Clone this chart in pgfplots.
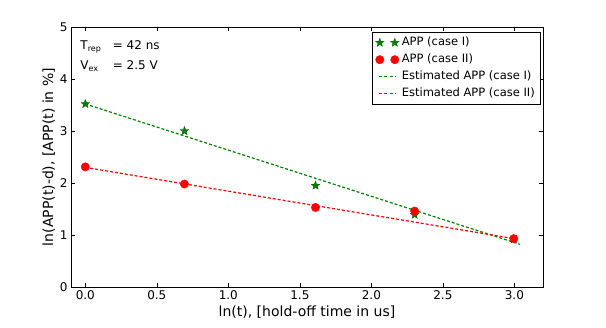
\documentclass[border=0pt]{standalone}
\usepackage{fontspec}
\setmainfont{DejaVu Sans}
\usepackage{pgfplots}
\pgfplotsset{compat=1.18}

\definecolor{mplgreen}{rgb}{0,0.5,0}
\definecolor{mplred}{rgb}{1,0,0}

% filled five-pointed star, like matplotlib's '*'
\pgfdeclareplotmark{fstar}{%
  \pgfpathmoveto{\pgfpointpolar{90}{1.0\pgfplotmarksize}}%
  \pgfpathlineto{\pgfpointpolar{126}{0.42\pgfplotmarksize}}%
  \pgfpathlineto{\pgfpointpolar{162}{1.0\pgfplotmarksize}}%
  \pgfpathlineto{\pgfpointpolar{198}{0.42\pgfplotmarksize}}%
  \pgfpathlineto{\pgfpointpolar{234}{1.0\pgfplotmarksize}}%
  \pgfpathlineto{\pgfpointpolar{270}{0.42\pgfplotmarksize}}%
  \pgfpathlineto{\pgfpointpolar{306}{1.0\pgfplotmarksize}}%
  \pgfpathlineto{\pgfpointpolar{342}{0.42\pgfplotmarksize}}%
  \pgfpathlineto{\pgfpointpolar{18}{1.0\pgfplotmarksize}}%
  \pgfpathlineto{\pgfpointpolar{54}{0.42\pgfplotmarksize}}%
  \pgfpathclose
  \pgfusepathqfillstroke
}

\begin{document}
\begin{tikzpicture}
\begin{axis}[
  name=ax,
  scale only axis,
  width=472pt, height=260pt,
  xmin=-0.1, xmax=3.2,
  ymin=0, ymax=5,
  xtick={0,0.5,1,1.5,2,2.5,3},
  ytick={0,1,2,3,4,5},
  xticklabel style={/pgf/number format/.cd, fixed, fixed zerofill, precision=1},
  /pgf/number format/assume math mode=true,
  tick align=inside,
  major tick length=4pt,
  tick style={black, line width=0.5pt},
  axis line style={black, line width=0.9pt},
  ticklabel style={font=\fontsize{12}{14}\selectfont},
  xlabel={ln(t), [hold-off time in us]},
  ylabel={ln(APP(t)-d), [APP(t) in \%]},
  label style={font=\fontsize{14}{16}\selectfont},
  xlabel style={yshift=1pt},
  ylabel style={yshift=-2pt},
  legend cell align=left,
  legend style={at={(rel axis cs:1,1)}, anchor=north east,
    xshift=-3pt, yshift=-5pt,
    font=\fontsize{11.5}{13}\selectfont,
    inner xsep=3pt, inner ysep=2pt, row sep=0pt,
    nodes={text height=9.5pt, text depth=3.5pt}},
]

% fitted lines (drawn beneath the points)
\addplot[mplgreen, line width=1.2pt, dash pattern=on 3pt off 2pt, forget plot]
  coordinates {(0,3.52) (3.04,0.82)};
\addplot[mplred, line width=1.2pt, dash pattern=on 3pt off 2pt, forget plot]
  coordinates {(0,2.30) (3.02,0.92)};

% measured points
\addplot[only marks, mark=fstar, mark size=4.5pt, color=mplgreen,
  mark options={fill=mplgreen, draw=mplgreen!70!black, line width=0.3pt},
  legend image code/.code={%
    \path[draw=none] (-5pt,0pt) -- (20pt,0pt);
    \path[draw=none] plot[only marks, mark=fstar, mark size=4.5pt,
      mark options={fill=mplgreen, draw=mplgreen!70!black, line width=0.3pt, solid}]
      coordinates {(0pt,0pt) (15pt,0pt)};}]
  coordinates {(0,3.52) (0.6931,3.00) (1.6094,1.95) (2.3026,1.39) (2.9957,0.92)};
\addlegendentry{APP (case I)}
\addplot[only marks, mark=*, mark size=4.2pt, color=mplred,
  mark options={fill=mplred, draw=mplred},
  legend image code/.code={%
    \path[draw=none] (-5pt,0pt) -- (20pt,0pt);
    \path[draw=none] plot[only marks, mark=*, mark size=4.2pt,
      mark options={fill=mplred, draw=mplred, solid}]
      coordinates {(0pt,0pt) (15pt,0pt)};}]
  coordinates {(0,2.31) (0.6931,1.98) (1.6094,1.53) (2.3026,1.46) (2.9957,0.93)};
\addlegendentry{APP (case II)}

% legend entries of the fitted lines (start points only, nothing visible)
\addplot[draw=none, color=mplgreen,
  legend image code/.code={%
    \path[draw=none] (-5pt,0pt) -- (20pt,0pt);
    \draw[color=mplgreen, draw=mplgreen, line width=1.2pt, dash pattern=on 3pt off 2.5pt] (-1pt,0pt) -- (16pt,0pt);}]
  coordinates {(0,3.52)};
\addlegendentry{Estimated APP (case I)}
\addplot[draw=none, color=mplred,
  legend image code/.code={%
    \path[draw=none] (-5pt,0pt) -- (20pt,0pt);
    \draw[color=mplred, draw=mplred, line width=1.2pt, dash pattern=on 3pt off 2.5pt] (-1pt,0pt) -- (16pt,0pt);}]
  coordinates {(0,2.30)};
\addlegendentry{Estimated APP (case II)}

\node[anchor=north west, inner sep=0pt, font=\fontsize{12}{20}\selectfont, align=left]
  at (axis cs:-0.035,4.84)
  {\begin{tabular}{@{}l@{\ \ \ }l@{}}
   T\textsubscript{rep} & = 42 ns\\[0pt]
   V\textsubscript{ex} & = 2.5 V
   \end{tabular}};
\end{axis}
\pgfresetboundingbox
\path[use as bounding box]
  ([xshift=-71pt,yshift=-41pt]ax.south west) rectangle
  ([xshift=63pt,yshift=27pt]ax.north east);
\end{tikzpicture}
\end{document}
